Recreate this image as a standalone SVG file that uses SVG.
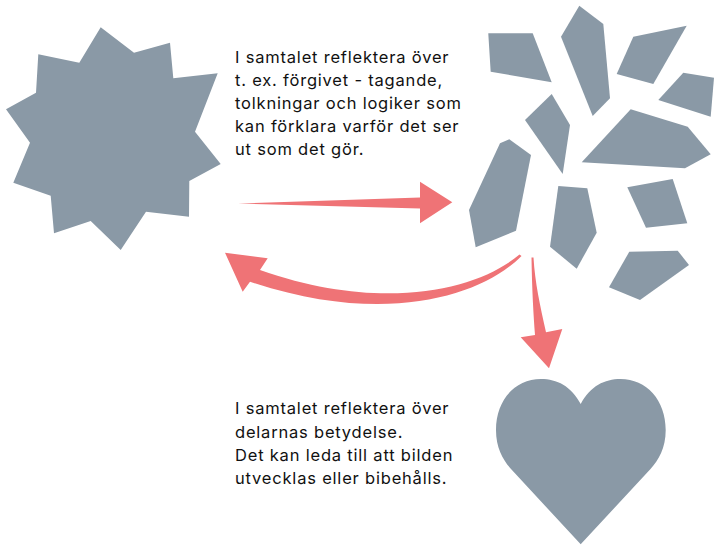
<svg xmlns="http://www.w3.org/2000/svg" width="714" height="547" viewBox="0 0 714 547">
<style>
.shape{fill:#8A99A6}
.arrow{fill:#EF7376}
.txt{font-family:Inter,"Noto Sans",sans-serif;font-size:16.5px;letter-spacing:0.8px;fill:#111}
</style>
<rect width="714" height="547" fill="#fff"/>
<g id="star">
<polygon class="shape" points="100.7,27.3 134,52.7 170,42.7 173.3,78.3 217.7,73.3 195,131.7 220.7,164 189.3,181 189,216.7 146,211.7 120.7,250 90.7,221 54,233.3 50.7,195.7 13.3,182.7 30,142.7 6,109.3 36,92.7 38.3,54.3 79.3,62.7"/>
</g>
<g id="shards">
<polygon class="shape" points="488.3,33.3 532.7,33.3 551.7,82.3 490.7,71.7"/>
<polygon class="shape" points="579.3,5.7 603.3,24 610,98.3 592.7,116 561,36.7"/>
<polygon class="shape" points="633.3,36.7 686.7,25.7 653.3,84 616.7,74"/>
<polygon class="shape" points="683.3,72.7 714,77.7 710.7,116.7 658.3,100"/>
<polygon class="shape" points="551.7,94 570,125 562.7,174 525,120"/>
<polygon class="shape" points="630.7,109.3 687.7,126.7 710.7,154.3 685,168.3 581.7,162.3"/>
<polygon class="shape" points="500,143.3 509.3,139.3 531,155 516,230.7 475.7,247.3 469,210"/>
<polygon class="shape" points="558.3,186 587.3,188.3 596.7,232.7 576.7,268.7 550,246.7"/>
<polygon class="shape" points="627.3,187.3 672.7,179 687.3,223.3 646,227.7"/>
<polygon class="shape" points="629.3,251.7 677.7,250.7 689,265 640,300 609,287.3"/>
</g>
<g id="heart">
<path class="shape" d="M580.7,404 C571,386 557,379 541,379 C515,379 496,400 496,430 C496,448 503,460 511,469 L580.7,544.3 L650.5,469 C658.5,460 665.7,448 665.7,430 C665.7,400 646.5,379 620.5,379 C604.5,379 590.5,386 580.7,404 Z"/>
</g>
<g id="connectors">
<path class="arrow" d="M238,203.5 L420,197.5 L420,181.7 L452.3,202.3 L420,223.3 L420,208.5 Z"/>
<path class="arrow" d="M521.5,256 C482,296 385,327 250,281.7 L242.7,291.7 L225,252.7 L267.7,258.3 L260,270 C382,313 478,290 519.5,254.5 Z"/>
<path class="arrow" d="M531.5,257.5 C532,290 533.5,315 535,335 L520.7,337.3 L549,368.3 L562.3,329 L546,332.3 C540,305 535,283 533.5,257.5 Z"/>
</g>
<g id="text1" class="txt">
<text x="235" y="62.5">I samtalet reflektera över</text>
<text x="235" y="85.5">t. ex. förgivet - tagande,</text>
<text x="235" y="108.5">tolkningar och logiker som</text>
<text x="235" y="131.5">kan förklara varför det ser</text>
<text x="235" y="154.5">ut som det gör.</text>
</g>
<g id="text2" class="txt">
<text x="235" y="414.3">I samtalet reflektera över</text>
<text x="235" y="437.5">delarnas betydelse.</text>
<text x="235" y="460.7">Det kan leda till att bilden</text>
<text x="235" y="484">utvecklas eller bibehålls.</text>
</g>
</svg>
